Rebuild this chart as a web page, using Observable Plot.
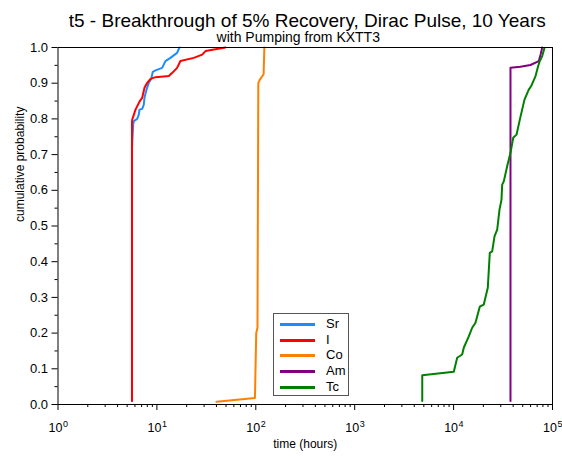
<!DOCTYPE html>
<html><head><meta charset="utf-8">
<script src="https://cdn.jsdelivr.net/npm/d3@7"></script>
<script src="https://cdn.jsdelivr.net/npm/@observablehq/plot@0.6"></script>
<style>
body{margin:0;background:#fff;}
#wrap{position:relative;width:562px;height:456px;font-family:"Liberation Sans",Arial,sans-serif;}
#legend{position:absolute;left:273px;top:313px;width:76px;height:83px;border:1px solid #555;background:#fff;box-sizing:border-box;}
.sw{position:absolute;left:6px;width:35px;height:3px;}
.lb{position:absolute;left:52px;font-size:13px;line-height:14px;color:#000;}
</style>
</head><body>
<div id="wrap"><div id="chart"></div><div id="legend"></div></div>
<script>
const title = "t5 - Breakthrough of 5% Recovery, Dirac Pulse, 10 Years";
const subtitle = "with Pumping from KXTT3";
const xLabel = "time (hours)";
const yLabel = "cumulative probability";
const series = ["Sr", "I", "Co", "Am", "Tc"];
const colors = ["#1e8cff", "#ff0000", "#ff8000", "#800080", "#008000"];

const tSr = [5.6, 5.6, 5.76, 5.84, 6.32, 6.56, 6.67, 7.10, 7.37, 7.49, 7.85, 8.28, 8.76, 9.09, 9.68, 11.3, 12.2, 13.7, 16.0, 16.9];
const pSr = [0.01, 0.72, 0.784, 0.794, 0.800, 0.812, 0.826, 0.828, 0.840, 0.859, 0.882, 0.901, 0.912, 0.932, 0.936, 0.943, 0.962, 0.971, 0.985, 1.0];

const tI = [5.6, 5.6, 5.63, 6.08, 6.72, 7.10, 7.49, 7.98, 8.62, 9.68, 13.2, 14.3, 16.0, 17.3, 23.6, 28.7, 31.0, 49.4];
const pI = [0.01, 0.79, 0.798, 0.826, 0.850, 0.859, 0.887, 0.901, 0.912, 0.917, 0.920, 0.929, 0.943, 0.962, 0.971, 0.980, 0.990, 1.0];

const tCo = [40, 98, 101, 104, 106, 110, 120, 122];
const pCo = [0.008, 0.018, 0.2, 0.215, 0.9, 0.91, 0.925, 1.0];

const tAm = [37600, 37600, 47400, 59800, 72700, 75700, 78700];
const pAm = [0.01, 0.943, 0.946, 0.951, 0.962, 0.98, 1.0];

const tTc = [4820, 4820, 10050, 10870, 12210, 12670, 14240, 15410, 16640, 18400, 20190, 22170, 23230, 24560, 25920, 27600, 29120, 30500, 30990, 32180, 34840, 37610, 40060, 43290, 46730, 52090, 57560, 60900, 67350, 71660, 74400, 78700, 83000];
const pTc = [0.01, 0.082, 0.092, 0.131, 0.140, 0.159, 0.191, 0.215, 0.229, 0.274, 0.280, 0.327, 0.425, 0.429, 0.471, 0.490, 0.546, 0.574, 0.616, 0.625, 0.668, 0.705, 0.747, 0.756, 0.798, 0.854, 0.882, 0.892, 0.920, 0.948, 0.962, 0.976, 0.999];

const xMajor = [1, 10, 100, 1000, 10000, 100000];
const xExp = ["0", "1", "2", "3", "4", "5"];
const yMajor = [0, 0.1, 0.2, 0.3, 0.4, 0.5, 0.6, 0.7, 0.8, 0.9, 1.0];
const yMinor = [0.05, 0.15, 0.25, 0.35, 0.45, 0.55, 0.65, 0.75, 0.85, 0.95];

const xMinor = [];
for (const d of xMajor.slice(0, 5)) for (let k = 2; k <= 9; k++) xMinor.push(k * d);

const pairs = [[tSr, pSr], [tI, pI], [tCo, pCo], [tAm, pAm], [tTc, pTc]];
const data = [];
pairs.forEach(([t, p], i) => t.forEach((v, j) => data.push({series: series[i], t: v, p: p[j]})));
const xLab = xMajor.map((v, i) => ({v, e: xExp[i]}));

const chart = Plot.plot({
  width: 562, height: 456,
  marginLeft: 57.5, marginRight: 10, marginTop: 47, marginBottom: 52,
  style: {fontFamily: '"Liberation Sans", Arial, sans-serif', fontSize: "12px", color: "#000", background: "#fff", overflow: "visible"},
  x: {type: "log", domain: [1, 1e5]},
  y: {domain: [0, 1]},
  color: {domain: series, range: colors},
  marks: [
    Plot.axisY({ticks: yMajor, tickSize: 6, tickPadding: 4, tickFormat: d3.format(".1f"), label: null, fontSize: 13}),
    Plot.axisY({ticks: yMinor, tickSize: 3, tickFormat: () => "", label: null}),
    Plot.axisX({ticks: xMajor, tickSize: 6, tickFormat: () => "", label: null}),
    Plot.axisX({ticks: xMinor, tickSize: 3, tickFormat: () => "", label: null}),
    Plot.text(xLab, {x: "v", text: () => "10", frameAnchor: "bottom", dy: 27, dx: -2.5, fontSize: 12.5}),
    Plot.text(xLab, {x: "v", text: "e", frameAnchor: "bottom", dy: 22, dx: 7.5, fontSize: 9}),
    Plot.line(data, {x: "t", y: "p", z: "series", stroke: "series", strokeWidth: 2, strokeLinejoin: "round"}),
    Plot.frame({stroke: "#000", strokeWidth: 1}),
    Plot.text([yLabel], {frameAnchor: "left", rotate: -90, dx: -38, dy: -4, fontSize: 12}),
    Plot.text([xLabel], {frameAnchor: "bottom", dy: 43, fontSize: 12}),
    Plot.text([title], {frameAnchor: "top", lineAnchor: "bottom", dy: -21, dx: 2, fontSize: 19}),
    Plot.text([subtitle], {frameAnchor: "top", lineAnchor: "bottom", dy: -5.5, dx: -7, fontSize: 14})
  ]
});
document.getElementById("chart").appendChild(chart);

const leg = document.getElementById("legend");
series.forEach((s, i) => {
  const cy = 10.5 + i * 15.7;
  const sw = document.createElement("div");
  sw.className = "sw"; sw.style.top = (cy - 1.5) + "px"; sw.style.background = colors[i];
  const lb = document.createElement("div");
  lb.className = "lb"; lb.style.top = (cy - 7.5) + "px"; lb.textContent = s;
  leg.appendChild(sw); leg.appendChild(lb);
});
</script>
</body></html>
